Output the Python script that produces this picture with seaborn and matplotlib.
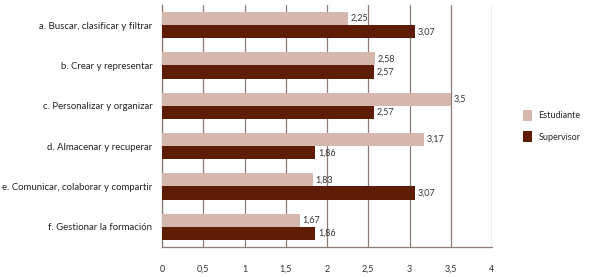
import pandas as pd
import numpy as np
import matplotlib.pyplot as plt
import seaborn as sns

# Data
categories = [
    "a. Buscar, clasificar y filtrar",
    "b. Crear y representar",
    "c. Personalizar y organizar",
    "d. Almacenar y recuperar",
    "e. Comunicar, colaborar y compartir",
    "f. Gestionar la formación",
]
estudiante = [2.25, 2.58, 3.5, 3.17, 1.83, 1.67]
supervisor = [3.07, 2.57, 2.57, 1.86, 3.07, 1.86]
series_names = ["Estudiante", "Supervisor"]
x_ticks = [0, 0.5, 1, 1.5, 2, 2.5, 3, 3.5, 4]

df = pd.DataFrame(
    {
        "categoria": categories * 2,
        "valor": estudiante + supervisor,
        "grupo": [series_names[0]] * len(categories) + [series_names[1]] * len(categories),
    }
)

sns.set_style("white")
plt.rcParams["font.family"] = ["Lato", "DejaVu Sans"]

colors = ["#d6b7ab", "#5e1c05"]
grid_color = "#8c7c75"

fig = plt.figure(figsize=(5.9, 2.77), dpi=100)
ax = fig.add_axes([0.2746, 0.1083, 0.5593, 0.8737])

sns.barplot(
    data=df,
    x="valor",
    y="categoria",
    hue="grupo",
    palette=colors,
    saturation=1,
    width=0.66,
    gap=0,
    orient="h",
    linewidth=0,
    ax=ax,
    zorder=3,
)

# value labels
for cont in ax.containers:
    labels = [f"{v:g}".replace(".", ",") for v in cont.datavalues]
    ax.bar_label(cont, labels=labels, padding=2, fontsize=6.5, color="#333333")

ax.set_xlim(0, 4)
ax.set_ylim(5.5, -0.5)
ax.set_xticks(x_ticks)
ax.set_xticklabels([f"{t:g}".replace(".", ",") for t in x_ticks], fontsize=6.5, color="#333333")
ax.tick_params(axis="x", length=0, pad=13)
ax.tick_params(axis="y", length=0, pad=7, labelsize=6.9, labelcolor="#222222")
ax.set_xlabel("")
ax.set_ylabel("")

ax.grid(axis="x", color=grid_color, linewidth=0.9, zorder=0)
for side in ["top", "right"]:
    ax.spines[side].set_visible(False)
ax.spines["left"].set_color(grid_color)
ax.spines["bottom"].set_color(grid_color)
ax.spines["left"].set_linewidth(0.9)
ax.spines["bottom"].set_linewidth(0.9)

ax.legend(
    loc="center left",
    bbox_to_anchor=(1.07, 0.5),
    frameon=False,
    fontsize=6.5,
    handlelength=1.0,
    handleheight=1.4,
    labelspacing=1.2,
    handletextpad=0.7,
)

plt.savefig("out.png", dpi=100)
